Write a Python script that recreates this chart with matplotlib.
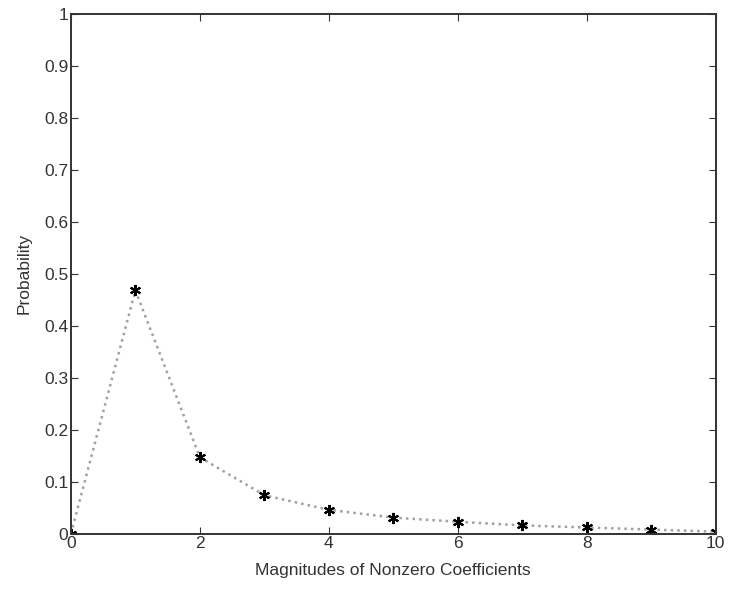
import numpy as np
import matplotlib
matplotlib.use("Agg")
from matplotlib import pyplot as plt

plt.rcParams['font.family'] = ['Liberation Sans', 'DejaVu Sans']

# magnitude of nonzero coefficient and its probability
magnitude = [0, 1, 2, 3, 4, 5, 6, 7, 8, 9, 10]
probability = [0.0, 0.468, 0.147, 0.074, 0.046, 0.031, 0.023, 0.016, 0.012, 0.008, 0.004]

fig = plt.figure(figsize=(7.31, 5.97), dpi=100)
ax = fig.add_axes([0.097, 0.106, 0.882, 0.871])

# dotted curve plus matlab-style asterisk markers
ax.plot(magnitude, probability, ':', color='#a0a0a0', linewidth=1.8)
ax.plot(magnitude, probability, marker=(6, 2, 0), color='black', markersize=8,
        markeredgewidth=1.5, linestyle='none')

ax.set_xlim(0, 10)
ax.set_ylim(0, 1)
ax.set_xticks(np.arange(0, 11, 2))
ax.set_yticks(np.arange(0, 1.01, 0.1))
ax.set_yticklabels(['0', '0.1', '0.2', '0.3', '0.4', '0.5', '0.6', '0.7', '0.8', '0.9', '1'])
ax.tick_params(direction='in', top=True, right=True, labelsize=12.5, length=5,
               pad=2, color='#333333', labelcolor='#333333')
for s in ax.spines.values():
    s.set_linewidth(1.4)
    s.set_color('#333333')

ax.set_xlabel('Magnitudes of Nonzero Coefficients', fontsize=12.5, color='#333333', labelpad=8)
ax.set_ylabel('Probability', fontsize=12.5, color='#333333', labelpad=9)

fig.savefig('out.png', dpi=100)
